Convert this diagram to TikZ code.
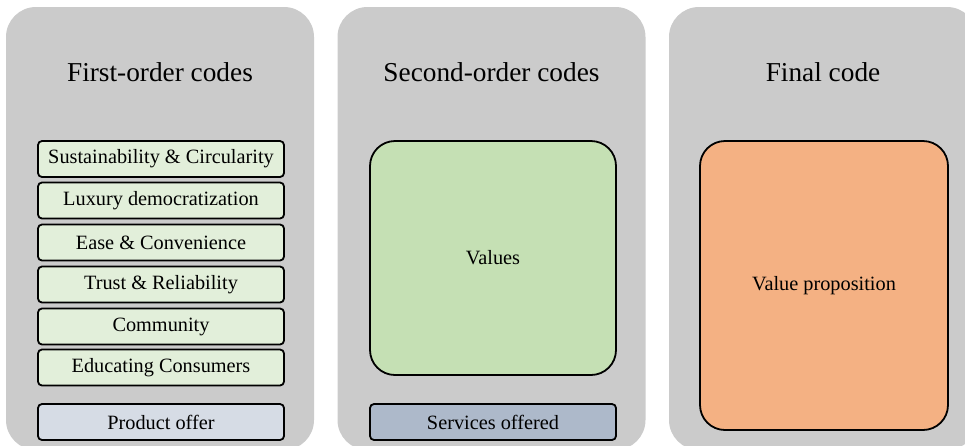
\documentclass[tikz,border=0pt]{standalone}
\usepackage{fontspec}
\setmainfont{Liberation Serif}
\definecolor{panelgray}{HTML}{CBCBCB}
\definecolor{lightgreen}{HTML}{E2EFDA}
\definecolor{lightblue}{HTML}{D6DCE5}
\definecolor{valgreen}{HTML}{C5E0B4}
\definecolor{svcblue}{HTML}{ADB9CA}
\definecolor{propor}{HTML}{F4B183}
\tikzset{
  panel/.style={fill=panelgray, draw=none, rounded corners=30pt, minimum width=308pt, minimum height=443pt, inner sep=0pt},
  ptitle/.style={font=\fontsize{27.3}{30}\selectfont, inner sep=0pt},
  codebox/.style={draw=black, line width=1.8pt, rounded corners=4pt, minimum width=246pt, minimum height=36pt, inner sep=0pt, font=\fontsize{20.3}{23}\selectfont},
  bigbox/.style={draw=black, line width=1.8pt, rounded corners=25pt, inner sep=0pt, font=\fontsize{20.3}{23}\selectfont}
}
\begin{document}
\begin{tikzpicture}[x=1pt,y=-1pt]
\useasboundingbox (0,0) rectangle (965,445);
% panels
\node[panel] (p1) at (160,228.5) {};
\node[panel] (p2) at (491.5,228.5) {};
\node[panel] (p3) at (823,228.5) {};
% titles
\node[ptitle] (t1) at (160,72) {First-order codes};
\node[ptitle] (t2) at (491.5,72) {Second-order codes};
\node[ptitle] (t3) at (823,72) {Final code};
% first-order codes
\node[codebox, fill=lightgreen] (c1) at (161,159) {Sustainability \& Circularity};
\node[codebox, fill=lightgreen] (c2) at (161,200.5) {Luxury democratization};
\node[codebox, fill=lightgreen] (c3) at (161,242.5) {Ease \& Convenience};
\node[codebox, fill=lightgreen] (c4) at (161,284.5) {Trust \& Reliability};
\node[codebox, fill=lightgreen] (c5) at (161,326.5) {Community};
\node[codebox, fill=lightgreen] (c6) at (161,367.5) {Educating Consumers};
\node[codebox, fill=lightblue] (po) at (161,422) {Product offer};
% second-order
\node[bigbox, fill=valgreen, minimum width=246pt, minimum height=234pt] (val) at (493,258) {Values};
\node[codebox, fill=svcblue] (so) at (493,422) {Services offered};
% final
\node[bigbox, fill=propor, minimum width=248pt, minimum height=289pt] (vp) at (824,285.5) {Value proposition};
\end{tikzpicture}
\end{document}
